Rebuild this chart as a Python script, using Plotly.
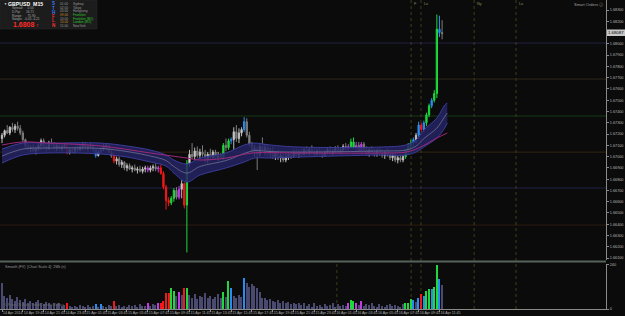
import plotly.graph_objects as go

# ---------------- data (GBPUSD M15) ----------------
closes = [1.6719,1.6723,1.6721,1.6726,1.6724,1.6727,1.6725,1.6721,1.6715,
1.6709,1.6707,1.6708,1.6705,1.6707,1.6710,1.6714,1.6709,1.6707,1.6712,1.6711,1.6708,1.6710,1.6707,1.6709,1.6710,
1.6704,1.6706,1.6705,1.6707,1.6706,1.6709,1.6711,1.6708,1.6709,1.6710,1.6706,1.6701,1.6704,1.6707,1.6709,1.6710,
1.6704,1.6701,1.6696,1.6698,1.6693,1.6695,1.6690,1.6692,1.6689,1.6690,1.6688,1.6689,1.6687,1.6689,1.6690,1.6688,1.6690,1.6691,1.6689,
1.6690,1.6685,1.6673,1.6661,1.6659,1.6663,1.6670,1.6664,1.6671,1.6676,1.6657,1.6694,
1.6702,1.6700,1.6705,1.6701,1.6704,1.6702,1.6697,1.6702,1.6699,1.6704,1.6699,1.6701,1.6699,1.6710,1.6708,1.6714,1.6715,1.6722,1.6716,1.6721,1.6724,1.6731,1.6719,1.6711,1.6705,1.6707,1.6702,1.6709,
1.6706,1.6708,1.6703,1.6705,1.6700,1.6703,1.6699,1.6701,1.6697,1.6700,1.6702,1.6700,1.6704,1.6701,1.6704,1.6702,1.6706,1.6703,1.6706,1.6704,1.6702,1.6705,1.6703,1.6701,1.6704,1.6706,1.6703,1.6705,1.6707,1.6704,1.6706,1.6709,1.6707,1.6709,1.6713,1.6708,1.6710,1.6705,1.6711,1.6706,1.6703,1.6706,1.6704,1.6702,1.6705,1.6703,1.6701,1.6704,1.6702,1.6699,1.6701,1.6697,1.6699,1.6697,
1.6700,1.6705,1.6709,1.6712,1.6715,1.6719,1.6728,1.6724,1.6730,1.6737,1.6745,1.6750,1.6756,1.6813,1.6810,1.6809]

opens = [1.6716,
1.6719,1.6723,1.6721,1.6726,1.6724,1.6727,1.6725,1.6721,1.6715,
1.6709,1.6707,1.6708,1.6705,1.6707,1.6710,1.6714,1.6709,1.6707,1.6712,1.6711,1.6708,1.6710,1.6707,1.6709,1.6710,
1.6704,1.6706,1.6705,1.6707,1.6706,1.6709,1.6711,1.6708,1.6709,1.6710,1.6706,1.6701,1.6704,1.6707,1.6709,1.6710,
1.6704,1.6701,1.6696,1.6698,1.6693,1.6695,1.6690,1.6692,1.6689,1.6690,1.6688,1.6689,1.6687,1.6689,1.6690,1.6688,1.6690,1.6691,1.6689,
1.6690,1.6685,1.6673,1.6661,1.6659,1.6663,1.6670,1.6664,1.6671,1.6676,1.6657,1.6694,
1.6702,1.6700,1.6705,1.6701,1.6704,1.6702,1.6697,1.6702,1.6699,1.6704,1.6699,1.6701,1.6699,1.6710,1.6708,1.6714,1.6715,1.6722,1.6716,1.6721,1.6724,1.6731,1.6719,1.6711,1.6705,1.6707,1.6702,1.6709,
1.6706,1.6708,1.6703,1.6705,1.6700,1.6703,1.6699,1.6701,1.6697,1.6700,1.6702,1.6700,1.6704,1.6701,1.6704,1.6702,1.6706,1.6703,1.6706,1.6704,1.6702,1.6705,1.6703,1.6701,1.6704,1.6706,1.6703,1.6705,1.6707,1.6704,1.6706,1.6709,1.6707,1.6709,1.6713,1.6708,1.6710,1.6705,1.6711,1.6706,1.6703,1.6706,1.6704,1.6702,1.6705,1.6703,1.6701,1.6704,1.6702,1.6699,1.6701,1.6697,1.6699,1.6697,
1.6700,1.6705,1.6709,1.6712,1.6715,1.6719,1.6728,1.6724,1.6730,1.6737,1.6745,1.6750,1.6756,1.6813,1.6810]

highs = [1.6721,1.6724,1.6728,1.6727,1.6730,1.6729,1.6731,1.6728,1.6723,
1.6716,1.6712,1.6710,1.6711,1.6709,1.6712,1.6716,1.6716,1.6712,1.6714,1.6716,1.6713,1.6712,1.6712,1.6711,1.6712,
1.6711,1.6708,1.6708,1.6709,1.6710,1.6711,1.6713,1.6713,1.6711,1.6712,1.6711,1.6707,1.6706,1.6709,1.6711,1.6712,
1.6711,1.6706,1.6703,1.6700,1.6700,1.6697,1.6696,1.6694,1.6694,1.6692,1.6693,1.6691,1.6692,1.6691,1.6692,1.6692,1.6692,1.6693,1.6694,
1.6692,1.6693,1.6687,1.6675,1.6664,1.6665,1.6672,1.6673,1.6674,1.6679,1.6677,1.6697,
1.6706,1.6712,1.6708,1.6709,1.6707,1.6710,1.6706,1.6704,1.6707,1.6706,1.6706,1.6704,1.6703,1.6712,1.6716,1.6716,1.6717,1.6726,1.6728,1.6725,1.6726,1.6735,1.6734,1.6722,1.6713,1.6710,1.6709,1.6712,
1.6717,1.6711,1.6710,1.6708,1.6709,1.6705,1.6706,1.6704,1.6703,1.6703,1.6704,1.6705,1.6706,1.6707,1.6706,1.6707,1.6708,1.6709,1.6708,1.6710,1.6707,1.6707,1.6708,1.6706,1.6706,1.6708,1.6709,1.6707,1.6709,1.6710,1.6708,1.6711,1.6712,1.6711,1.6716,1.6717,1.6713,1.6713,1.6713,1.6713,1.6709,1.6708,1.6709,1.6707,1.6707,1.6708,1.6706,1.6705,1.6707,1.6705,1.6703,1.6704,1.6701,1.6702,
1.6702,1.6707,1.6712,1.6715,1.6717,1.6721,1.6731,1.6730,1.6732,1.6739,1.6747,1.6752,1.6759,1.6826,1.6825,1.6821]

lows = [1.6712,1.6717,1.6720,1.6719,1.6722,1.6721,1.6723,1.6719,1.6713,
1.6707,1.6705,1.6704,1.6704,1.6702,1.6705,1.6706,1.6707,1.6705,1.6706,1.6709,1.6706,1.6705,1.6706,1.6705,1.6707,
1.6702,1.6702,1.6703,1.6703,1.6704,1.6705,1.6706,1.6706,1.6705,1.6707,1.6704,1.6699,1.6700,1.6703,1.6705,1.6706,
1.6703,1.6699,1.6694,1.6693,1.6691,1.6690,1.6688,1.6687,1.6688,1.6686,1.6687,1.6685,1.6686,1.6685,1.6686,1.6686,1.6686,1.6687,1.6687,
1.6686,1.6684,1.6671,1.6653,1.6656,1.6657,1.6660,1.6662,1.6662,1.6663,1.6654,1.6615,
1.6691,1.6698,1.6697,1.6699,1.6698,1.6700,1.6694,1.6694,1.6697,1.6697,1.6697,1.6696,1.6697,1.6697,1.6705,1.6706,1.6711,1.6706,1.6713,1.6712,1.6718,1.6722,1.6717,1.6709,1.6703,1.6700,1.6688,1.6700,
1.6703,1.6701,1.6700,1.6699,1.6698,1.6697,1.6697,1.6695,1.6695,1.6695,1.6697,1.6698,1.6699,1.6700,1.6699,1.6700,1.6701,1.6701,1.6701,1.6702,1.6700,1.6701,1.6701,1.6699,1.6700,1.6702,1.6702,1.6701,1.6703,1.6703,1.6702,1.6704,1.6705,1.6705,1.6707,1.6706,1.6704,1.6704,1.6703,1.6704,1.6701,1.6700,1.6702,1.6700,1.6700,1.6701,1.6699,1.6698,1.6700,1.6697,1.6696,1.6695,1.6694,1.6695,
1.6695,1.6698,1.6702,1.6706,1.6709,1.6712,1.6716,1.6722,1.6722,1.6727,1.6735,1.6743,1.6748,1.6752,1.6806,1.6804]

volumes = [140,70,60,75,55,45,65,50,40,
55,35,45,30,40,50,35,25,40,30,20,35,25,30,15,20,
35,15,12,18,10,22,15,12,20,10,14,26,10,26,18,12,
20,15,43,15,20,12,18,10,22,14,20,12,25,18,15,30,15,25,20,
30,35,43,87,87,115,99,70,92,75,115,115,
75,60,80,55,70,65,85,60,70,55,65,80,60,92,65,151,115,70,60,75,65,168,140,120,135,125,115,90,
62,58,50,55,45,40,50,35,45,30,40,28,35,25,30,
20,30,15,25,12,30,18,22,10,28,15,20,30,12,25,18,22,15,
35,47,42,35,20,43,
15,28,22,35,18,12,25,15,10,20,28,15,22,18,12,
25,35,30,52,47,40,59,83,69,99,108,108,120,240,161,130]

# bars highlighted by the volume-analysis colouring (g=green, r=red, b=blue, m=magenta)
highlight = {25:'r', 36:'b', 38:'b', 43:'r', 56:'m', 60:'m', 61:'r', 62:'r', 63:'r', 64:'r',
             65:'g', 66:'g', 68:'m', 70:'r', 71:'g', 85:'g', 87:'g', 88:'b', 93:'b',
             133:'m', 134:'g', 135:'g', 136:'m', 138:'m', 155:'g', 156:'g', 157:'g', 158:'b',
             160:'b', 161:'r', 162:'b', 163:'g', 164:'g', 165:'b', 166:'g', 167:'g', 168:'b'}

# envelope band + slow MA (read at sample bars)
band_idx = [0, 8, 18, 38, 48, 57, 63, 66, 71, 76, 86, 93, 97, 103, 114, 145, 155, 159, 162, 167, 170, 171]
band_upper = [1.67067,1.67120,1.67120,1.67120,1.67094,1.67058,1.67014,1.66970,1.66934,1.66987,1.67032,1.67103,1.67120,1.67103,1.67085,1.67085,1.67103,1.67147,1.67236,1.67342,1.67457,1.67475]
band_lower = [1.66943,1.67014,1.67032,1.67023,1.66996,1.66952,1.66916,1.66854,1.66774,1.66836,1.66899,1.66952,1.66987,1.66987,1.66996,1.67014,1.67014,1.67040,1.67085,1.67165,1.67253,1.67298]
band_mid = [1.67005,1.67067,1.67076,1.67072,1.67045,1.67005,1.66965,1.66912,1.66854,1.66912,1.66965,1.67028,1.67053,1.67045,1.67040,1.67050,1.67058,1.67093,1.67160,1.67253,1.67355,1.67386]
ma_idx = [0, 8, 18, 38, 57, 71, 76, 86, 96, 114, 145, 155, 160, 167, 171]
ma_vals = [1.67103,1.67130,1.67120,1.67094,1.67032,1.66987,1.66970,1.66987,1.67032,1.67032,1.67032,1.67040,1.67076,1.67165,1.67209]

pivot_levels = [1.68007, 1.67688, 1.67360, 1.67040, 1.66721, 1.66393]
pivot_colors = ['#202044', '#2c2818', '#163a16', '#302614', '#202046', '#2e1a10']

session_pos = [157.1, 160.9, 181.3, 197.4]
session_labels = ['F', 'Lo', 'Ny', 'Lo']

price_ticks = [1.6830, 1.6820, 1.6800, 1.6790, 1.6780, 1.6770, 1.6760, 1.6750, 1.6740, 1.6730,
               1.6720, 1.6710, 1.6700, 1.6690, 1.6680, 1.6670, 1.6660, 1.6650, 1.6640, 1.6630,
               1.6620, 1.6610]
time_tick_idx = [0, 8, 16, 24, 32, 40, 48, 56, 64, 72, 80, 88, 96, 104, 112, 120, 128, 136, 144, 152, 160, 168]
time_labels = ['14 Apr 2014', '14 Apr 19:45', '14 Apr 21:45', '14 Apr 23:45', '15 Apr 01:45', '15 Apr 03:45',
               '15 Apr 05:45', '15 Apr 07:45', '15 Apr 09:45', '15 Apr 11:45', '15 Apr 13:45', '15 Apr 15:45',
               '15 Apr 17:45', '15 Apr 19:45', '15 Apr 21:45', '15 Apr 23:45', '16 Apr 01:45', '16 Apr 03:45',
               '16 Apr 05:45', '16 Apr 07:45', '16 Apr 09:45', '16 Apr 11:45']

last_price_text = '1.68087'

# ---------------- figure ----------------
N = len(closes)
assert all(len(a) == N for a in (opens, highs, lows, volumes)), [len(a) for a in (opens, highs, lows, closes, volumes)]
xs = list(range(N))

PW, PH = 606, 309  # plot area in pixels


def px(x):
    return x / PW


def py(y):
    return (PH - y) / PH


COL = {'g': '#1ed83c', 'r': '#f01a1a', 'b': '#2a8cf2', 'm': '#c23ce6'}
SLATE = '#4a4a70'
FONT = 'Liberation Sans, Arial, sans-serif'

fig = go.Figure()

# band
fig.add_trace(go.Scatter(x=band_idx, y=band_upper, mode='lines', hoverinfo='skip',
                         line=dict(color='#3b3b9a', width=1, shape='spline')))
fig.add_trace(go.Scatter(x=band_idx, y=band_lower, mode='lines', hoverinfo='skip', fill='tonexty',
                         fillcolor='rgba(36,36,100,0.85)',
                         line=dict(color='#3b3b9a', width=1, shape='spline')))
fig.add_trace(go.Scatter(x=band_idx, y=band_mid, mode='lines', hoverinfo='skip',
                         line=dict(color='#7a7a9c', width=0.7, shape='spline')))
fig.add_trace(go.Scatter(x=ma_idx, y=ma_vals, mode='lines', hoverinfo='skip',
                         line=dict(color='#a0287a', width=1, shape='spline')))

# candles
base = [i for i in xs if i not in highlight]
fig.add_trace(go.Candlestick(
    x=base, open=[opens[i] for i in base], high=[highs[i] for i in base],
    low=[lows[i] for i in base], close=[closes[i] for i in base],
    increasing=dict(line=dict(color='#bdbdbd', width=1), fillcolor='#ececec'),
    decreasing=dict(line=dict(color='#7c7c7c', width=1), fillcolor='#7c7c7c'),
    whiskerwidth=0, hoverinfo='skip'))
for code, col in COL.items():
    idx = [i for i in xs if highlight.get(i) == code]
    fig.add_trace(go.Candlestick(
        x=idx, open=[opens[i] for i in idx], high=[highs[i] for i in idx],
        low=[lows[i] for i in idx], close=[closes[i] for i in idx],
        increasing=dict(line=dict(color=col, width=1), fillcolor=col),
        decreasing=dict(line=dict(color=col, width=1), fillcolor=col),
        whiskerwidth=0, hoverinfo='skip'))

# volume
vol_colors = [COL[highlight[i]] if i in highlight else SLATE for i in xs]
fig.add_trace(go.Bar(x=xs, y=volumes, yaxis='y2', marker=dict(color=vol_colors, line=dict(width=0)),
                     width=0.5, hoverinfo='skip'))

r0 = -2 / 2.604
r1 = r0 + PW / 2.604

shapes = []
# info panel background
shapes.append(dict(type='rect', xref='paper', yref='paper', x0=px(0), x1=px(97), y0=py(29), y1=py(0),
                   fillcolor='#1c1c1c', line=dict(color='#2a2a2a', width=0.5), layer='above'))
# pivot lines
for lvl, c in zip(pivot_levels, pivot_colors):
    shapes.append(dict(type='line', xref='paper', yref='y', x0=0, x1=1, y0=lvl, y1=lvl,
                       line=dict(color=c, width=1), layer='below'))
# session lines
for s in session_pos:
    shapes.append(dict(type='line', xref='x', yref='paper', x0=s, x1=s, y0=0, y1=1,
                       line=dict(color='#3e3e1c', width=1, dash='dot'), layer='below'))
shapes.append(dict(type='line', xref='x', yref='paper', x0=128.6, x1=128.6, y0=0, y1=py(262),
                   line=dict(color='#3e3e1c', width=1, dash='dot'), layer='below'))
# pane separator
shapes.append(dict(type='line', xref='paper', yref='paper', x0=0, x1=1.0, y0=py(261.5), y1=py(261.5),
                   line=dict(color='#56625a', width=2)))
# last price box on the axis
shapes.append(dict(type='rect', xref='paper', yref='paper', x0=px(607), x1=px(625), y0=py(36), y1=py(29.5),
                   fillcolor='#c8c8c8', line=dict(width=0)))

ann = []


def txt(t, x, y, size=4, color='#b0b0b0', anchor='left', bold=False):
    ann.append(dict(text=('<b>%s</b>' % t) if bold else t, x=px(x), y=py(y), xref='paper', yref='paper',
                    xanchor=anchor, yanchor='middle', showarrow=False,
                    font=dict(size=size, color=color, family=FONT)))


# info panel
txt('▼', 1.5, 4, 3, '#e0e0e0')
txt('GBPUSD  M15', 6, 4, 5.2, '#ffffff', bold=True)
stats = ['Spread:     0.00', 'D.Pip:      16.71', 'Range:      75.90', 'Swaps:  -0.05 -0.21']
for k, s in enumerate(stats):
    txt(s, 10, 8.5 + 3.6 * k, 3.2, '#a8a8a8')
txt('1.6808', 11, 24.5, 7, '#ff2a2a', bold=True)
txt('7', 34, 25.5, 4, '#ff2a2a')
letters = ['S', 'T', 'H', 'F', 'L', 'N']
letter_cols = ['#3a78ff', '#3a78ff', '#3a78ff', '#ff3030', '#ff3030', '#ff3030']
for k, (l, c) in enumerate(zip(letters, letter_cols)):
    txt(l, 50, 4 + 4.2 * k, 4.5, c, bold=True)
sess_times = ['01:00', '02:00', '03:00', '09:00', '10:00', '10:00', '15:00']
sess_tcols = ['#9a9a9a', '#9a9a9a', '#9a9a9a', '#d08a2a', '#9a9a9a', '#d08a2a', '#9a9a9a']
sess_names = ['Sydney', 'Tokyo', 'Hongkong', 'Frankfurt', 'Frankfurt (BO)', 'London (BO)', 'NewYork']
sess_ncols = ['#9a9a9a', '#9a9a9a', '#9a9a9a', '#2ec82e', '#2ec82e', '#2ec82e', '#9a9a9a']
for k in range(7):
    txt(sess_times[k], 58, 4 + 3.7 * k, 3.2, sess_tcols[k])
    txt(sess_names[k], 71, 4 + 3.7 * k, 3.2, sess_ncols[k])

# smart orders
txt('Smart Orders ⓘ', 605, 4.5, 4, '#a0a0a0', anchor='right')
# session labels
for s, l in zip(session_pos, session_labels):
    ann.append(dict(text=l, x=s + 0.4, y=py(3.5), xref='x', yref='paper', xanchor='left', yanchor='middle',
                    showarrow=False, font=dict(size=3.8, color='#8a8a5a', family=FONT)))
# volume pane texts
txt('Smooth (FV)  [Chart Scale 4]  2Wk (n)', 3, 266.5, 3.6, '#9a9a9a')
txt('L.Press 20 Bars, Trend Current: 8 Bars', 3, 305, 3.4, '#6a6a6a')
# last price label
ann.append(dict(text=last_price_text, x=px(616), y=py(32.8), xref='paper', yref='paper', xanchor='center',
                yanchor='middle', showarrow=False, font=dict(size=4.3, color='#000000', family=FONT)))

fig.update_layout(
    width=625, height=316, margin=dict(l=0, r=19, t=0, b=7),
    paper_bgcolor='#0b0b0b', plot_bgcolor='#0b0b0b', showlegend=False,
    shapes=shapes, annotations=ann, bargap=0,
    xaxis=dict(domain=[0, 1], range=[r0, r1], anchor='y2', rangeslider=dict(visible=False),
               showgrid=False, zeroline=False, tickvals=time_tick_idx, ticktext=time_labels,
               tickangle=0, tickfont=dict(size=3.6, color='#b0b0b0', family=FONT), ticks='outside', ticklen=2,
               tickcolor='#8a8a8a', showline=True, linecolor='#8a8a8a', linewidth=1,
               ticklabelposition='outside right'),
    yaxis=dict(domain=[py(260), 1], range=[1.66083, 1.68389], side='right', anchor='x',
               showgrid=False, zeroline=False, tickvals=price_ticks,
               ticktext=['%.5f' % p for p in price_ticks],
               tickfont=dict(size=3.8, color='#b4b4b4', family=FONT), ticks='outside', ticklen=2,
               tickcolor='#8a8a8a', showline=True, linecolor='#8a8a8a', linewidth=1),
    yaxis2=dict(domain=[0, py(264)], range=[0, 245], side='right', anchor='x',
                showgrid=False, zeroline=False, tickvals=[0, 240], ticktext=['0', '240'],
                tickfont=dict(size=3.8, color='#b4b4b4', family=FONT), ticks='outside', ticklen=2,
                tickcolor='#8a8a8a', showline=True, linecolor='#8a8a8a', linewidth=1),
)

fig.write_html('out.html', config=dict(displayModeBar=False))
